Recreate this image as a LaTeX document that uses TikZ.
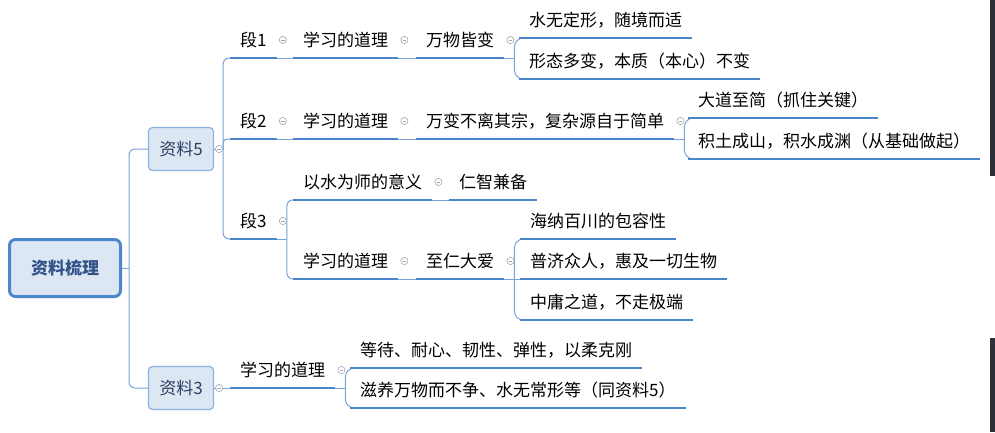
\documentclass[tikz,border=0pt]{standalone}
\usepackage{fontspec}
\setmainfont{Noto Sans CJK SC}
\usetikzlibrary{calc}
\definecolor{lineblue}{RGB}{74,134,206}
\definecolor{linkblue}{RGB}{122,162,216}
\definecolor{boxfill}{RGB}{221,231,243}
\definecolor{boxline}{RGB}{140,178,225}
\definecolor{rootline}{RGB}{76,135,205}
\definecolor{inkdark}{RGB}{45,62,98}
\definecolor{inkroot}{RGB}{50,82,135}
\definecolor{foldgray}{RGB}{165,165,175}
\definecolor{edgedark}{RGB}{44,48,56}
\newcommand{\fold}[1]{%
\draw[foldmark,fill=white] (#1) circle (3.6);
\draw[foldmark] ($(#1)+(-1.9,0)$) -- ($(#1)+(1.9,0)$);}
\tikzset{
topic/.style={anchor=south west,inner xsep=10pt,inner ysep=7.5pt,text height=13pt,text depth=4pt,font=\fontsize{17pt}{20pt}\selectfont,text=black},
srcbox/.style={draw=boxline,fill=boxfill,line width=1.2pt,rounded corners=4pt,minimum width=65pt,minimum height=43pt,inner sep=0pt,font=\fontsize{17pt}{20pt}\selectfont,text=inkdark},
rootbox/.style={draw=rootline,fill=boxfill,line width=3pt,rounded corners=6pt,minimum width=111pt,minimum height=57pt,inner sep=0pt,font=\fontsize{17pt}{20pt}\selectfont\bfseries,text=inkroot},
link/.style={draw=linkblue,line width=1pt},
uline/.style={draw=lineblue,line width=2.8pt},
foldmark/.style={draw=foldgray,line width=0.6pt}
}
\begin{document}
\begin{tikzpicture}[x=1pt,y=-1pt]
\useasboundingbox (0,0) rectangle (995,432);
\fill[white] (0,0) rectangle (995,432);
\fill[edgedark] (990,0) rectangle (995,176);
\fill[edgedark] (990,338) rectangle (995,432);
% root and the two sources
\node[rootbox] (root) at (65,268) {资料梳理};
\node[srcbox] (r5) at (181,149) {资料5};
\node[srcbox] (r3) at (181,388) {资料3};
% 资料5
\node[topic] (p1) at (230,58) {段1};
\node[topic] (p2) at (230,139) {段2};
\node[topic] (p3) at (230,239) {段3};
\node[topic] (a1) at (293,58) {学习的道理};
\node[topic] (w1) at (416,58) {万物皆变};
\node[topic] (c11) at (519,38) {水无定形，随境而适};
\node[topic] (c12) at (519,79) {形态多变，本质（本心）不变};
\node[topic] (a2) at (293,139) {学习的道理};
\node[topic] (w2) at (416,139) {万变不离其宗，复杂源自于简单};
\node[topic] (c21) at (688,118) {大道至简（抓住关键）};
\node[topic] (c22) at (688,159) {积土成山，积水成渊（从基础做起）};
\node[topic] (s1) at (293,200) {以水为师的意义};
\node[topic] (s2) at (449,200) {仁智兼备};
\node[topic] (a3) at (293,279) {学习的道理};
\node[topic] (w3) at (416,279) {至仁大爱};
\node[topic] (c31) at (520,239) {海纳百川的包容性};
\node[topic] (c32) at (520,279) {普济众人，惠及一切生物};
\node[topic] (c33) at (520,320) {中庸之道，不走极端};
% 资料3
\node[topic] (a4) at (230,388) {学习的道理};
\node[topic] (d1) at (350,368) {等待、耐心、韧性、弹性，以柔克刚};
\node[topic] (d2) at (350,408) {滋养万物而不争、水无常形等（同资料5）};
% connectors
\coordinate (rj) at ($(root.east)+(7,0)$);
\draw[link] (root.east) -- (rj);
\draw[link,rounded corners=6pt] (rj) |- (r5.west);
\draw[link,rounded corners=6pt] (rj) |- (r3.west);
\coordinate (j5) at ($(r5.east)+(9,0)$);
\draw[link] (r5.east) -- (j5);
\draw[link,rounded corners=6pt] (j5) |- (p1.south west);
\draw[link,rounded corners=4pt] (j5) |- (p2.south west);
\draw[link,rounded corners=6pt] (j5) |- (p3.south west);
\draw[link] (p1.south east) -- (a1.south west);
\draw[link] (a1.south east) -- (w1.south west);
\coordinate (jw1) at ($(w1.south east)+(10,0)$);
\draw[link] (w1.south east) -- (jw1);
\draw[link,rounded corners=9pt] (jw1) |- (c11.south west);
\draw[link,rounded corners=9pt] (jw1) |- (c12.south west);
\draw[link] (p2.south east) -- (a2.south west);
\draw[link] (a2.south east) -- (w2.south west);
\coordinate (jw2) at ($(w2.south east)+(10,0)$);
\draw[link] (w2.south east) -- (jw2);
\draw[link,rounded corners=9pt] (jw2) |- (c21.south west);
\draw[link,rounded corners=9pt] (jw2) |- (c22.south west);
\coordinate (jp3) at ($(p3.south east)+(10,0)$);
\draw[link] (p3.south east) -- (jp3);
\draw[link,rounded corners=6pt] (jp3) |- (s1.south west);
\draw[link,rounded corners=6pt] (jp3) |- (a3.south west);
\draw[link] (s1.south east) -- (s2.south west);
\draw[link] (a3.south east) -- (w3.south west);
\coordinate (jw3) at ($(w3.south east)+(10,0)$);
\draw[link] (w3.south east) -- (c32.south west);
\draw[link,rounded corners=9pt] (jw3) |- (c31.south west);
\draw[link,rounded corners=9pt] (jw3) |- (c33.south west);
\draw[link] (r3.east) -- (a4.south west);
\coordinate (ja4) at ($(a4.south east)+(10,0)$);
\draw[link] (a4.south east) -- (ja4);
\draw[link,rounded corners=9pt] (ja4) |- (d1.south west);
\draw[link,rounded corners=9pt] (ja4) |- (d2.south west);
% underlines
\foreach \n in {p1,p2,p3,a1,w1,c11,c12,a2,w2,c21,c22,s1,s2,a3,w3,c31,c32,c33,a4,d1,d2}
  \draw[uline] (\n.south west) -- (\n.south east);
% fold marks
\fold{$(r5.east)+(5,0)$}
\fold{$(r3.east)+(5,0)$}
\foreach \n in {p1,p2,p3,a1,w1,a2,w2,s1,a3,w3,a4}
  {\fold{$(\n.south east)+(6,-18)$}}
\end{tikzpicture}
\end{document}
